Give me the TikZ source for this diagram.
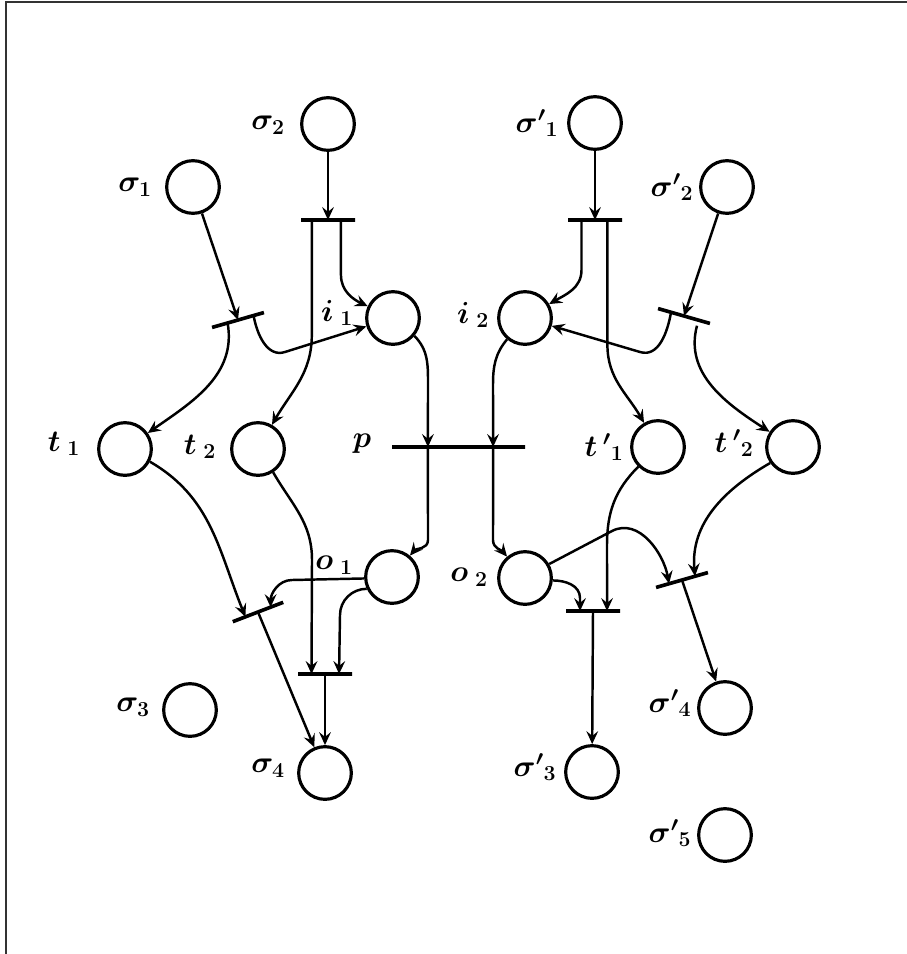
\RequirePackage{fix-cm}
\documentclass[tikz,border=0pt]{standalone}
\usepackage{amsmath}
\usetikzlibrary{arrows.meta,calc}
\begin{document}
\begin{tikzpicture}[x=0.03cm,y=0.03cm,
  place/.style={circle,draw,line width=2.7pt,minimum size=1.58cm,inner sep=0pt},
  bar/.style={rectangle,draw,line width=3.1pt,minimum width=1.62cm,minimum height=0pt,inner sep=0pt,outer sep=0pt},
  arc/.style={line width=2.1pt,-{Stealth[length=11pt,width=10pt,inset=4pt]}},
  lab/.style={inner sep=0pt,font=\fontsize{26}{30}\selectfont\boldmath}]
\useasboundingbox (0,0) rectangle (907,-954);
% frame
\draw[line width=1.8pt,black!80] (6,-954) -- (6,-2) -- (907,-2);

% places
\node[place] (s2)  at (328,-124) {};
\node[place] (s1)  at (193,-187) {};
\node[place] (i1)  at (393,-318) {};
\node[place] (sp1) at (595,-123) {};
\node[place] (sp2) at (727,-187) {};
\node[place] (i2)  at (525,-318) {};
\node[place] (t1)  at (125,-449) {};
\node[place] (t2)  at (258,-449) {};
\node[place] (tp1) at (658,-447) {};
\node[place] (tp2) at (793,-447) {};
\node[place] (o1)  at (392,-577) {};
\node[place] (o2)  at (525,-578) {};
\node[place] (s3)  at (190,-710) {};
\node[place] (s4)  at (325,-773) {};
\node[place] (sp4) at (725,-708) {};
\node[place] (sp3) at (592,-772) {};
\node[place] (sp5) at (725,-835) {};

% transitions
\node[bar] (ta) at (328,-220) {};
\node[bar,rotate=16] (tb) at (238,-320) {};
\node[bar] (tc) at (595,-220) {};
\node[bar,rotate=-16] (td) at (684,-316) {};
\node[bar,minimum width=3.99cm] (tp) at (458.5,-447) {};
\node[bar,rotate=21] (te) at (258,-612) {};
\node[bar] (tf) at (325,-674) {};
\node[bar] (tg) at (593,-611) {};
\node[bar,rotate=16] (th) at (682,-580) {};

% labels
\node[lab] (ls2)  at (268,-125) {$\sigma_2$};
\node[lab] (ls1)  at (135,-187) {$\sigma_1$};
\node[lab] (li1)  at (337,-313) {$i_{\;1}$};
\node[lab] (lsp1) at (537,-123) {$\sigma{'}_1$};
\node[lab] (lsp2) at (672,-187) {$\sigma{'}_2$};
\node[lab] (li2)  at (473,-315) {$i_{\;2}$};
\node[lab] (lt1)  at (64,-444) {$t_{\;1}$};
\node[lab] (lt2)  at (200,-447) {$t_{\;2}$};
\node[lab] (lp)   at (362,-444) {$p$};
\node[lab] (ltp1) at (604,-447) {$t\,{'}_{1}$};
\node[lab] (ltp2) at (734,-443) {$t\,{'}_{2}$};
\node[lab] (lo1)  at (334,-565) {$o_{\;1}$};
\node[lab] (lo2)  at (469,-577) {$o_{\;2}$};
\node[lab] (ls3)  at (133,-707) {$\sigma_3$};
\node[lab] (ls4)  at (268,-768) {$\sigma_4$};
\node[lab] (lsp4) at (670,-703) {$\sigma{'}_4$};
\node[lab] (lsp3) at (535,-767) {$\sigma{'}_3$};
\node[lab] (lsp5) at (670,-833) {$\sigma{'}_5$};

% left half
\draw[arc] (s2) -- (ta);
\draw[arc] ($(ta.west)!0.2!(ta.east)$) -- ++(0,-115) to[out=-90,in=60] (t2);
\draw[arc] ($(ta.west)!0.74!(ta.east)$) -- ++(0,-55) to[out=-90,in=155] (i1);
\draw[arc] (s1) -- (tb);
\draw[arc] ($(tb.west)!0.3!(tb.east)$) to[out=-80,in=35] (t1);
\draw[arc] ($(tb.west)!0.8!(tb.east)$) to[out=-80,in=198] (285,-352) -- (i1);
\draw[arc] (i1.-40) to[out=-45,in=90] (428,-385) -- ($(tp.west)!0.27!(tp.east)$);
\draw[arc] ($(tp.west)!0.27!(tp.east)$) -- (428,-540) to[out=-90,in=50] (o1);
\draw[arc] (t1.-27) to[out=-30,in=112] ($(te.west)!0.25!(te.east)$);
\draw[arc] (t2.-57) to[out=-60,in=90] (312,-560) -- ($(tf.west)!0.25!(tf.east)$);
\draw[arc] (o1.183) -- (292,-580) to[out=180,in=90] ($(te.west)!0.75!(te.east)$);
\draw[arc] (o1.205) to[out=180,in=90] (340,-615) -- ($(tf.west)!0.76!(tf.east)$);
\draw[arc] (te) -- (s4);
\draw[arc] (tf) -- (s4);

% right half
\draw[arc] (sp1) -- (tc);
\draw[arc] ($(tc.west)!0.25!(tc.east)$) -- ++(0,-50) to[out=-90,in=30] (i2);
\draw[arc] ($(tc.west)!0.73!(tc.east)$) -- ++(0,-125) to[out=-90,in=120] (tp1);
\draw[arc] (sp2) -- (td);
\draw[arc] ($(td.west)!0.25!(td.east)$) to[out=-100,in=-17] (640,-352) -- (i2);
\draw[arc] ($(td.west)!0.75!(td.east)$) ++(0,-6) to[out=-105,in=147] (tp2);
\draw[arc] (i2.230) to[out=230,in=90] (493,-385) -- ($(tp.west)!0.76!(tp.east)$);
\draw[arc] ($(tp.west)!0.76!(tp.east)$) -- (493,-540) to[out=-90,in=130] (o2);
\draw[arc] (tp1.225) to[out=225,in=90] (607,-545) -- ($(tg.west)!0.76!(tg.east)$);
\draw[arc] (o2.-5) to[out=0,in=90] (580,-598) -- ($(tg.west)!0.26!(tg.east)$);
\draw[arc] (o2.30) -- (612,-531) to[out=27,in=100] ($(th.west)!0.25!(th.east)$);
\draw[arc] (tp2.215) to[out=210,in=95] ($(th.west)!0.75!(th.east)$);
\draw[arc] (th) -- (sp4);
\draw[arc] (tg) -- (sp3);
\end{tikzpicture}
\end{document}
